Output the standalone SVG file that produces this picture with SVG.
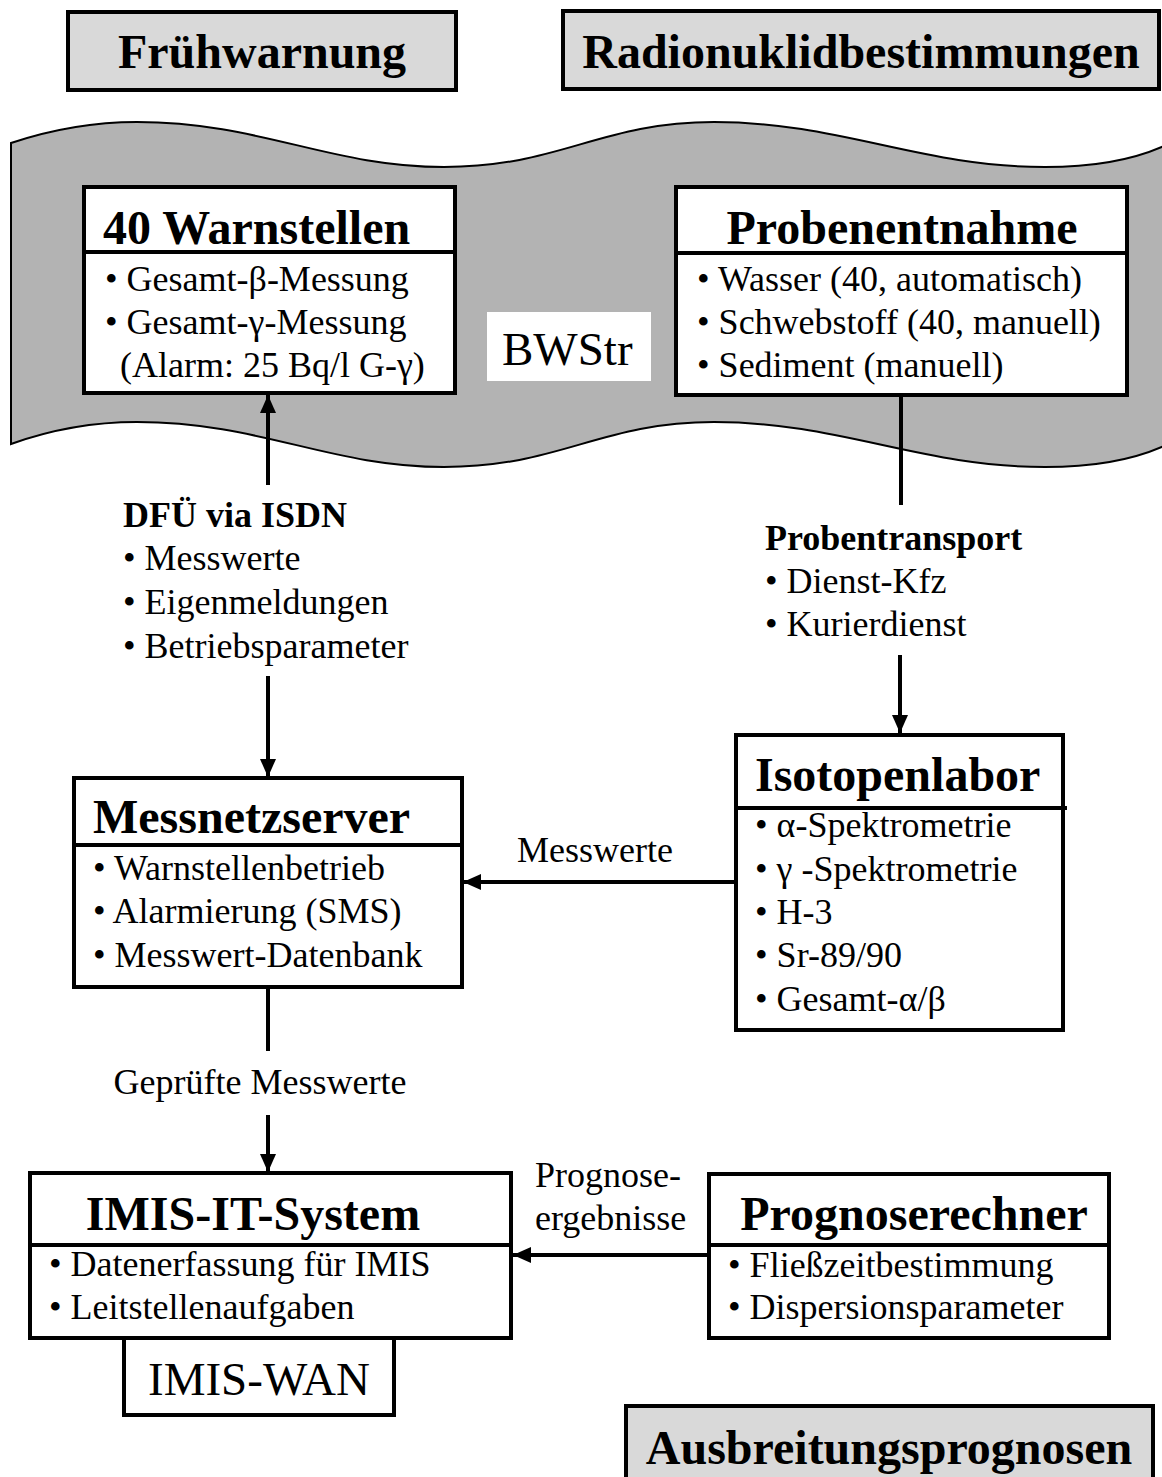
<svg xmlns="http://www.w3.org/2000/svg" width="1162" height="1477" viewBox="0 0 1162 1477">
  <defs>
    <style>
      text { font-family: "Liberation Serif", "Times New Roman", serif; fill: #000; }
      .hdr { fill: #d9d9d9; stroke: #000; stroke-width: 4; }
      .box { fill: #fff; stroke: #000; stroke-width: 4; }
      .div { stroke: #000; stroke-width: 4; fill: none; }
      .title { font-size: 48px; font-weight: bold; }
      .item { font-size: 36px; }
      .lblb { font-size: 36px; font-weight: bold; }
      .big { font-size: 47px; }
      .conn { stroke: #000; stroke-width: 4; fill: none; }
      .arr { marker-end: url(#head); }
    </style>
    <marker id="head" markerUnits="userSpaceOnUse" markerWidth="20" markerHeight="16" refX="18" refY="8" orient="auto">
      <path d="M0,0 L18,8 L0,16 z" fill="#000"/>
    </marker>
  </defs>

  <rect width="1162" height="1477" fill="#fff"/>

  <!-- section headers -->
  <g id="hdr-fruehwarnung">
    <rect class="hdr" x="68" y="12" width="388" height="78"/>
    <text class="title" x="262" y="68" text-anchor="middle">Frühwarnung</text>
  </g>
  <g id="hdr-radionuklid">
    <rect class="hdr" x="563" y="11" width="596" height="78"/>
    <text class="title" x="861" y="68" text-anchor="middle">Radionuklidbestimmungen</text>
  </g>
  <g id="hdr-ausbreitung">
    <rect class="hdr" x="626" y="1406" width="527" height="80"/>
    <text class="title" x="889" y="1464" text-anchor="middle">Ausbreitungsprognosen</text>
  </g>

  <!-- waterway band -->
  <g id="bwstr">
    <path d="M11,143 C50,130 95,122 137,122 C260,122 330,167 444,167 C560,167 600,122 714,122 C840,122 920,167 1045,167 C1100,167 1140,157 1166,145
             L1166,445 C1140,457 1100,467 1045,467 C920,467 840,422 714,422 C600,422 560,467 444,467 C330,467 260,422 137,422 C95,422 50,430 11,444 Z"
          fill="#b3b3b3" stroke="#000" stroke-width="2"/>
    <rect x="487" y="312" width="164" height="69" fill="#fff"/>
    <text class="big" x="502" y="365">BWStr</text>
  </g>

  <!-- connectors -->
  <g id="connectors">
    <line class="conn arr" x1="268" y1="485" x2="268" y2="395"/>
    <line class="conn arr" x1="268" y1="676" x2="268" y2="777"/>
    <line class="conn" x1="901" y1="395" x2="901" y2="505"/>
    <line class="conn arr" x1="900" y1="655" x2="900" y2="733"/>
    <line class="conn arr" x1="736" y1="882" x2="463" y2="882"/>
    <line class="conn" x1="268" y1="987" x2="268" y2="1051"/>
    <line class="conn arr" x1="268" y1="1115" x2="268" y2="1172"/>
    <line class="conn arr" x1="709" y1="1255" x2="513" y2="1255"/>
  </g>

  <!-- connector labels -->
  <g id="lbl-dfue">
    <text class="lblb" x="123" y="527">DFÜ via ISDN</text>
    <text class="item" x="123" y="570">• Messwerte</text>
    <text class="item" x="123" y="614">• Eigenmeldungen</text>
    <text class="item" x="123" y="658">• Betriebsparameter</text>
  </g>
  <g id="lbl-probentransport">
    <text class="lblb" x="765" y="550">Probentransport</text>
    <text class="item" x="765" y="593">• Dienst-Kfz</text>
    <text class="item" x="765" y="636">• Kurierdienst</text>
  </g>
  <g id="lbl-messwerte">
    <text class="item" x="595" y="862" text-anchor="middle">Messwerte</text>
  </g>
  <g id="lbl-gepruefte">
    <text class="item" x="260" y="1094" text-anchor="middle">Geprüfte Messwerte</text>
  </g>
  <g id="lbl-prognose">
    <text class="item" x="535" y="1187">Prognose-</text>
    <text class="item" x="535" y="1230">ergebnisse</text>
  </g>

  <!-- nodes -->
  <g id="warnstellen">
    <rect class="box" x="84" y="187" width="371" height="206"/>
    <line class="div" x1="84" y1="252" x2="455" y2="252"/>
    <text class="title" x="103" y="244">40 Warnstellen</text>
    <text class="item" x="105" y="291">• Gesamt-β-Messung</text>
    <text class="item" x="105" y="334">• Gesamt-γ-Messung</text>
    <text class="item" x="120" y="377">(Alarm: 25 Bq/l G-γ)</text>
  </g>

  <g id="probenentnahme">
    <rect class="box" x="676" y="187" width="451" height="208"/>
    <line class="div" x1="676" y1="253" x2="1127" y2="253"/>
    <text class="title" x="902" y="244" text-anchor="middle">Probenentnahme</text>
    <text class="item" x="697" y="291">• Wasser (40, automatisch)</text>
    <text class="item" x="697" y="334">• Schwebstoff (40, manuell)</text>
    <text class="item" x="697" y="377">• Sediment (manuell)</text>
  </g>

  <g id="messnetzserver">
    <rect class="box" x="74" y="778" width="388" height="209"/>
    <line class="div" x1="74" y1="845" x2="462" y2="845"/>
    <text class="title" x="93" y="833">Messnetzserver</text>
    <text class="item" x="93" y="880">• Warnstellenbetrieb</text>
    <text class="item" x="93" y="923">• Alarmierung (SMS)</text>
    <text class="item" x="93" y="967">• Messwert-Datenbank</text>
  </g>

  <g id="isotopenlabor">
    <rect class="box" x="736" y="735" width="327" height="295"/>
    <line class="div" x1="736" y1="808" x2="1067" y2="808"/>
    <text class="title" x="755" y="791">Isotopenlabor</text>
    <text class="item" x="755" y="837">• α-Spektrometrie</text>
    <text class="item" x="755" y="881">• γ -Spektrometrie</text>
    <text class="item" x="755" y="924">• H-3</text>
    <text class="item" x="755" y="967">• Sr-89/90</text>
    <text class="item" x="755" y="1011">• Gesamt-α/β</text>
  </g>

  <g id="imis-it-system">
    <rect class="box" x="30" y="1173" width="481" height="165"/>
    <line class="div" x1="30" y1="1245" x2="511" y2="1245"/>
    <text class="title" x="253" y="1230" text-anchor="middle">IMIS-IT-System</text>
    <text class="item" x="49" y="1276">• Datenerfassung für IMIS</text>
    <text class="item" x="49" y="1319">• Leitstellenaufgaben</text>
  </g>

  <g id="imis-wan">
    <rect class="box" x="124" y="1338" width="270" height="77"/>
    <text class="big" x="259" y="1395" text-anchor="middle">IMIS-WAN</text>
  </g>

  <g id="prognoserechner">
    <rect class="box" x="709" y="1174" width="400" height="164"/>
    <line class="div" x1="709" y1="1245" x2="1109" y2="1245"/>
    <text class="title" x="914" y="1230" text-anchor="middle">Prognoserechner</text>
    <text class="item" x="728" y="1277">• Fließzeitbestimmung</text>
    <text class="item" x="728" y="1319">• Dispersionsparameter</text>
  </g>
</svg>
